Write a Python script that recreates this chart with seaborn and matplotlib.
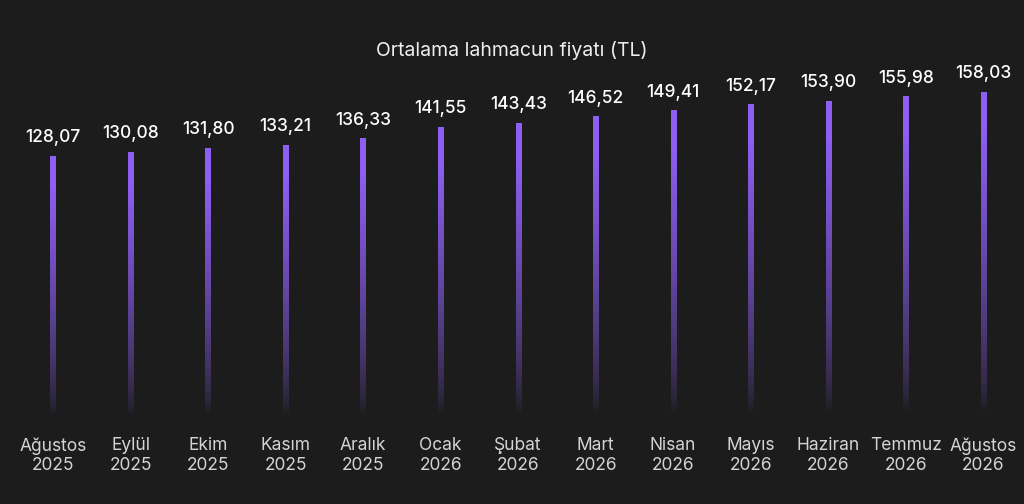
import numpy as np
import pandas as pd
import matplotlib
matplotlib.use("Agg")
import matplotlib.pyplot as plt
import seaborn as sns
from matplotlib.colors import to_rgb

months = ["Ağustos\n2025", "Eylül\n2025", "Ekim\n2025", "Kasım\n2025", "Aralık\n2025",
          "Ocak\n2026", "Şubat\n2026", "Mart\n2026", "Nisan\n2026", "Mayıs\n2026",
          "Haziran\n2026", "Temmuz\n2026", "Ağustos\n2026"]
prices = [128.07, 130.08, 131.80, 133.21, 136.33, 141.55, 143.43,
          146.52, 149.41, 152.17, 153.90, 155.98, 158.03]
value_labels = ["128,07", "130,08", "131,80", "133,21", "136,33", "141,55", "143,43",
                "146,52", "149,41", "152,17", "153,90", "155,98", "158,03"]

BG = "#1c1c1c"
PURPLE = "#8d5ff2"

sns.set_theme(style="dark")
plt.rcParams["font.family"] = ["Inter", "DejaVu Sans"]

df = pd.DataFrame({"month": months, "price": prices})

fig = plt.figure(figsize=(10.24, 5.04), dpi=100, facecolor=BG)
ax = fig.add_axes([0.014, 0.149, 0.984, 0.732])
ax.set_facecolor(BG)

sns.barplot(data=df, x="month", y="price", ax=ax, width=0.068, color=PURPLE)

# vertical gradient: purple at top, fading out just above the base
rgb = np.array(to_rgb(PURPLE))
n = 256
t = np.linspace(0, 1, n)[:, None]  # 0 bottom -> 1 top
alpha = np.clip((t - 0.05) / 0.95, 0, 1) ** 0.7 * 1.1
alpha = np.clip(alpha, 0, 1)
grad = np.zeros((n, 1, 4))
grad[:, 0, :3] = rgb
grad[:, 0, 3] = alpha[:, 0]

for i, patch in enumerate(ax.patches):
    x0, y0 = patch.get_x(), patch.get_y()
    w, h = patch.get_width(), patch.get_height()
    patch.set_facecolor("none")
    patch.set_edgecolor("none")
    im = ax.imshow(grad, extent=[x0, x0 + w, y0, y0 + h], origin="lower",
                   aspect="auto", zorder=2, interpolation="bilinear")
    im.set_clip_path(patch)
    ax.text(x0 + w / 2, y0 + h + 4.5, value_labels[i],
            ha="center", va="bottom", color="white", fontsize=12.5, fontweight="medium")

ax.set_xlim(-0.5, len(months) - 0.5)
ax.set_ylim(0, 173)
ax.set_xlabel("")
ax.set_ylabel("")
ax.set_yticks([])
ax.tick_params(axis="x", colors="#d4d4d4", labelsize=12.5, length=0, pad=6)
for lbl in ax.get_xticklabels():
    lbl.set_linespacing(1.2)
ax.grid(False)
for s in ax.spines.values():
    s.set_visible(False)

fig.text(0.5, 0.9, "Ortalama lahmacun fiyatı (TL)", ha="center", va="center",
         color="#eeeeee", fontsize=14)

fig.savefig("out.png", dpi=100, facecolor=BG)
